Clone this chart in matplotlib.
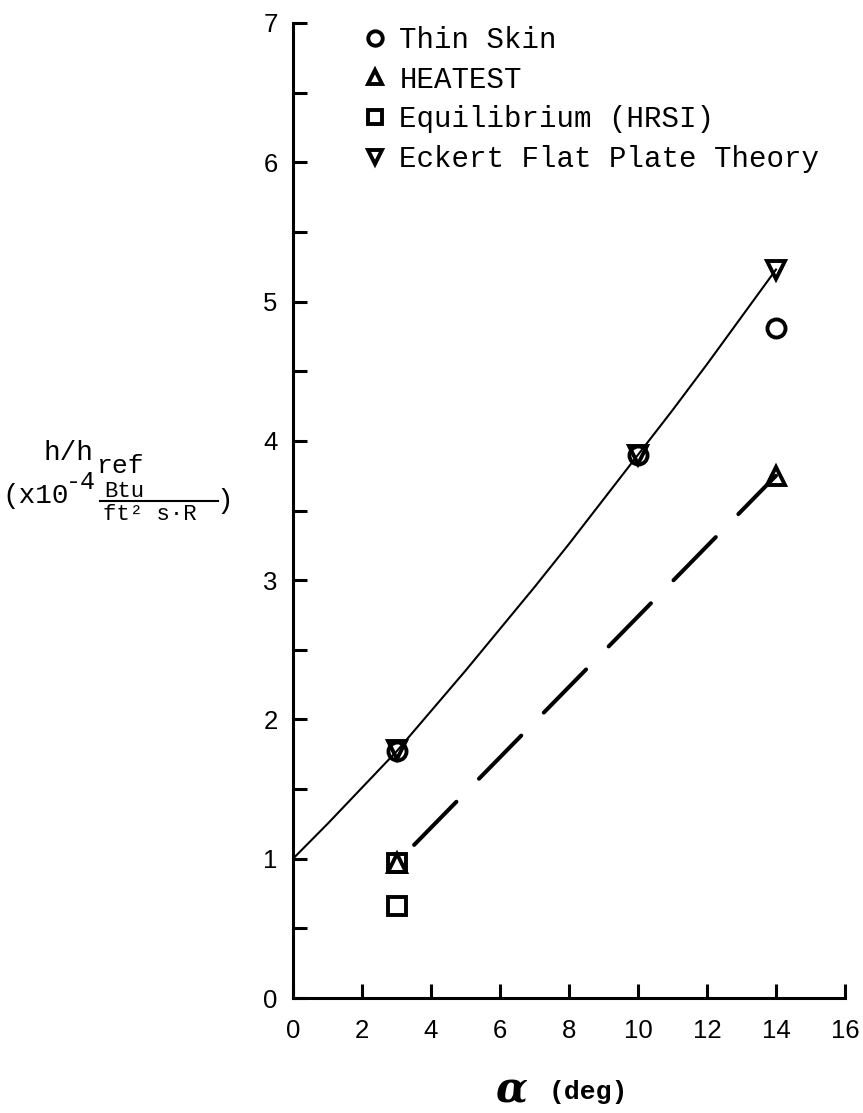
import matplotlib.pyplot as plt
from matplotlib.lines import Line2D

thin_alpha = [3, 10, 14]
thin_h = [1.77, 3.90, 4.81]

heat_alpha = [3, 14]
heat_h = [0.97, 3.75]

equil_alpha = [3, 3]
equil_h = [0.97, 0.66]

eckert_alpha = [3, 10, 14]
eckert_h = [1.78, 3.90, 5.23]

# solid theory curve, read along its length
theory_alpha = [0, 1, 2, 3, 4, 5, 6, 7, 8, 9, 10, 11, 12, 13, 14]
theory_h = [1.00, 1.25, 1.51, 1.77, 2.06, 2.35, 2.65, 2.95, 3.26, 3.58,
            3.90, 4.22, 4.55, 4.89, 5.23]

# long-dash line through the HEATEST points
dash_alpha = [3, 14]
dash_h = [0.97, 3.75]

x_ticks = [0, 2, 4, 6, 8, 10, 12, 14, 16]
y_ticks = [0, 1, 2, 3, 4, 5, 6, 7]

MONO = "Liberation Mono"
SANS = "Liberation Sans"
W, H = 863, 1113


def px(x, y):
    # pixel position (from top left) -> figure fraction
    return x / W, 1 - y / H


fig = plt.figure(figsize=(W / 100, H / 100), dpi=100)
ax = fig.add_axes([293 / W, 1 - 998 / H, (845 - 293) / W, (998 - 23) / H])

ax.plot(theory_alpha, theory_h, color="k", lw=1.5, zorder=2)
ax.plot(dash_alpha, dash_h, color="k", lw=2.9, linestyle=(16.75, (15, 8)),
        dash_capstyle="round", zorder=2)

mk = dict(linestyle="none", color="k", mfc="none", mew=2.8, ms=13, zorder=3)
ax.plot(thin_alpha, thin_h, marker="o", label="Thin Skin", **mk)
ax.plot(heat_alpha, heat_h, marker="^", label="HEATEST", **mk)
ax.plot(equil_alpha, equil_h, marker="s", label="Equilibrium (HRSI)", **mk)
ax.plot(eckert_alpha, eckert_h, marker="v", label="Eckert Flat Plate Theory", **mk)

ax.set_xlim(0, 16)
ax.set_ylim(0, 7)
ax.spines[["top", "right"]].set_visible(False)
for s in ("left", "bottom"):
    ax.spines[s].set_linewidth(2.2)

ax.set_xticks(x_ticks)
ax.set_yticks(y_ticks)
ax.set_yticks([v + 0.5 for v in y_ticks[:-1]], minor=True)
ax.tick_params(which="both", direction="in", length=10, width=2.2)
ax.tick_params(axis="y", pad=11)
ax.tick_params(axis="x", pad=15)
for lab in ax.get_xticklabels() + ax.get_yticklabels():
    lab.set_fontfamily(SANS)
    lab.set_fontsize(18.5)

leg = ax.legend(loc="upper left", bbox_to_anchor=px(363, 26),
                bbox_transform=fig.transFigure, frameon=False,
                prop={"family": MONO, "size": 21}, handlelength=0.8,
                handletextpad=0.45, labelspacing=0.40, borderpad=0,
                borderaxespad=0, markerscale=0.8)

# y-axis label, built piece by piece
fig.text(*px(43, 460), "h/h", family=MONO, fontsize=20, va="baseline")
fig.text(*px(97, 473), "ref", family=MONO, fontsize=19, va="baseline")
fig.text(*px(2, 503), "(x10", family=MONO, fontsize=20, va="baseline")
fig.text(*px(66, 489), "-4", family=MONO, fontsize=18, va="baseline")
fig.text(*px(104, 497), "Btu", family=MONO, fontsize=16, va="baseline")
fig.add_artist(Line2D([100 / W, 218 / W], [1 - 501 / H] * 2,
                      transform=fig.transFigure, color="k", lw=1.5))
fig.text(*px(103, 520), "ft² s·R", family=MONO, fontsize=16, va="baseline")
fig.text(*px(216, 508), ")", family=MONO, fontsize=20, va="baseline")

# x-axis label
fig.text(*px(511, 1090), "α", family="DejaVu Serif", style="italic",
         weight="bold", fontsize=30, ha="center", va="center")
fig.text(*px(588, 1092), "(deg)", family=MONO, weight="bold", fontsize=19,
         ha="center", va="center")

fig.savefig("out.png", dpi=100)
